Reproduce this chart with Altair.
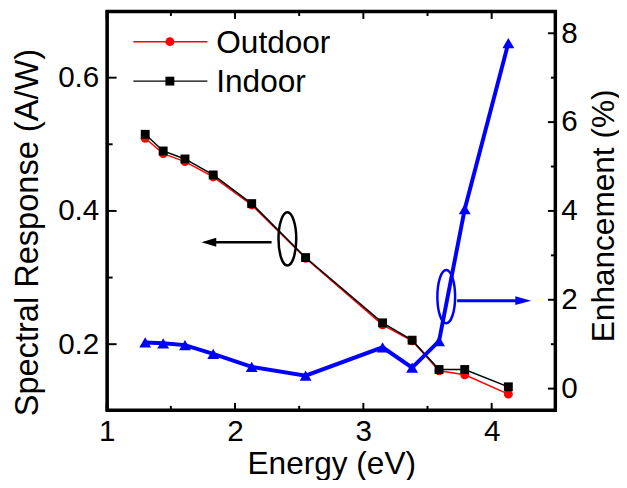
import altair as alt
import pandas as pd

# ---------------- data ----------------
energy = [1.30, 1.44, 1.61, 1.83, 2.13, 2.55, 3.15, 3.38, 3.59, 3.79, 4.13]
outdoor = [0.509, 0.486, 0.474, 0.451, 0.409, 0.329, 0.229, 0.205, 0.160, 0.154, 0.125]
indoor = [0.515, 0.490, 0.478, 0.454, 0.411, 0.330, 0.232, 0.206, 0.162, 0.162, 0.136]
enhancement = [1.04, 1.02, 0.98, 0.78, 0.49, 0.29, 0.93, 0.47, 1.07, 4.04, 7.78]

x_range = [1, 4.5]
left_range = [0.1, 0.7]
right_range = [-0.5, 8.5]

x_major = [1, 2, 3, 4]
x_minor = [1.5, 2.5, 3.5, 4.5]
left_major = [0.2, 0.4, 0.6]
left_minor = [0.3, 0.5]
right_major = [0, 2, 4, 6, 8]
right_minor = [1, 3, 5, 7]

# annotation anchors (data coordinates)
black_ellipse = {"x": [2.408], "y": [0.358]}
black_arrow = {"x": [2.285], "x2": [1.79], "y": [0.353], "head": [1.796]}
blue_ellipse = {"x": [3.646], "y": [2.07]}
blue_arrow = {"x": [3.731], "x2": [4.21], "y": [1.98], "head": [4.246]}

legend_labels = ["Outdoor", "Indoor"]

# ---------------- scales / axes ----------------
FONT = "Liberation Sans"
W, H = 455, 405

xscale = alt.Scale(domain=x_range, nice=False, zero=False)
lscale = alt.Scale(domain=left_range, nice=False, zero=False)
rscale = alt.Scale(domain=right_range, nice=False, zero=False)

xaxis = alt.Axis(values=x_major, format="d", title="Energy (eV)", labelFontSize=30,
                 titleFontSize=32, labelPadding=30, labelBaseline="alphabetic",
                 titleY=64, titleBaseline="alphabetic", titleFontWeight="normal",
                 ticks=False, domain=False, grid=False, labelFlush=False,
                 labelColor="black", titleColor="black", labelFont=FONT, titleFont=FONT)
laxis = alt.Axis(values=left_major, format=".1f", title="Spectral Response (A/W)",
                 labelFontSize=30, titleFontSize=33, labelPadding=8, ticks=False,
                 domain=False, grid=False, labelFlush=False, titleAngle=270,
                 titleX=-80, titleY=224, titleAlign="center", titleBaseline="middle",
                 titleFontWeight="normal", labelColor="black", titleColor="black",
                 labelFont=FONT, titleFont=FONT)
raxis = alt.Axis(values=right_major, format="d", title="Enhancement (%)", orient="right",
                 labelFontSize=30, titleFontSize=32, labelPadding=5, ticks=False,
                 domain=False, grid=False, labelFlush=False, titleAngle=270,
                 titleX=48, titleY=207, titleAlign="center", titleBaseline="middle",
                 titleFontWeight="normal", labelColor="black", titleColor="black",
                 labelFont=FONT, titleFont=FONT)


def X(f):
    return alt.X(f, type="quantitative", scale=xscale, axis=xaxis)


def YL(f):
    return alt.Y(f, type="quantitative", scale=lscale, axis=laxis)


def YR(f):
    return alt.Y(f, type="quantitative", scale=rscale, axis=raxis)


df = pd.DataFrame({"e": energy, "out": outdoor, "ind": indoor, "enh": enhancement})

ELLIPSE = "M 0 -1 A 0.333 1 0 1 1 0 1 A 0.333 1 0 1 1 0 -1 Z"
HEAD_LEFT = "M -1 0 L 1 -0.6 L 1 0.6 Z"
HEAD_RIGHT = "M 1 0 L -1 -0.55 L -1 0.55 Z"

# ---------------- plot frame ----------------
frame_df = pd.DataFrame({"x0": [x_range[0]], "x1": [x_range[1]],
                         "y0": [left_range[0]], "y1": [left_range[1]]})
frame = alt.Chart(frame_df).mark_rect(
    fill="white", fillOpacity=0, stroke="#000000", strokeWidth=2.5, strokeOpacity=1
).encode(x=X("x0"), x2="x1", y=YL("y0"), y2="y1")

fd = pd.DataFrame({"f": [0]})
frame_rules = [
    alt.Chart(fd).mark_rule(color="#000000", strokeWidth=2.5).encode(
        x=alt.value(0), x2=alt.value(W), y=alt.value(1)),
    alt.Chart(fd).mark_rule(color="#000000", strokeWidth=2.5).encode(
        x=alt.value(0), x2=alt.value(W), y=alt.value(H - 1)),
    alt.Chart(fd).mark_rule(color="#000000", strokeWidth=2.5).encode(
        y=alt.value(0), y2=alt.value(H), x=alt.value(1)),
    alt.Chart(fd).mark_rule(color="#000000", strokeWidth=2.5).encode(
        y=alt.value(0), y2=alt.value(H), x=alt.value(W - 1)),
]

# ---------------- left group ----------------
red_line = alt.Chart(df).mark_line(color="#ff0000", strokeWidth=1.5).encode(x=X("e"), y=YL("out"))
red_pts = alt.Chart(df).mark_point(shape="circle", filled=True, size=81, color="#ff0000",
                                   opacity=1).encode(x=X("e"), y=YL("out"))
blk_line = alt.Chart(df).mark_line(color="black", strokeWidth=1.5).encode(x=X("e"), y=YL("ind"))
blk_pts = alt.Chart(df).mark_point(shape="square", filled=True, size=81, color="black",
                                   opacity=1).encode(x=X("e"), y=YL("ind"))

lmaj = alt.Chart(pd.DataFrame({"v": left_major})).mark_rule(color="black", strokeWidth=2).encode(
    y=YL("v"), x=alt.value(0), x2=alt.value(10))
lmin = alt.Chart(pd.DataFrame({"v": left_minor})).mark_rule(color="black", strokeWidth=2).encode(
    y=YL("v"), x=alt.value(0), x2=alt.value(6))

bell = alt.Chart(pd.DataFrame(black_ellipse)).mark_point(
    shape=ELLIPSE, size=2916, filled=False, stroke="black", strokeWidth=2.5, opacity=1
).encode(x=X("x"), y=YL("y"))
barrow_df = pd.DataFrame(black_arrow)
barrow = alt.Chart(barrow_df).mark_rule(color="black", strokeWidth=2.5).encode(
    x=X("x"), x2="x2", y=YL("y"))
bhead = alt.Chart(barrow_df).mark_point(shape=HEAD_LEFT, size=225, filled=True, color="black",
                                        opacity=1).encode(x=X("head"), y=YL("y"))

left = alt.layer(frame, red_line, red_pts, blk_line, blk_pts, lmaj, lmin, bell, barrow, bhead)

# ---------------- right group ----------------
blue_line = alt.Chart(df).mark_line(color="#0000ff", strokeWidth=4).encode(x=X("e"), y=YR("enh"))
blue_pts = alt.Chart(df).mark_point(shape="triangle-up", filled=True, size=144, color="#0000ff",
                                    opacity=1).encode(x=X("e"), y=YR("enh"))
rmaj = alt.Chart(pd.DataFrame({"v": right_major})).mark_rule(color="black", strokeWidth=2).encode(
    y=YR("v"), x=alt.value(W), x2=alt.value(W - 8))
rmin = alt.Chart(pd.DataFrame({"v": right_minor})).mark_rule(color="black", strokeWidth=2).encode(
    y=YR("v"), x=alt.value(W), x2=alt.value(W - 5))
uell = alt.Chart(pd.DataFrame(blue_ellipse)).mark_point(
    shape=ELLIPSE, size=2916, filled=False, stroke="#0000ff", strokeWidth=2.5, opacity=1
).encode(x=X("x"), y=YR("y"))
uarrow_df = pd.DataFrame(blue_arrow)
uarrow = alt.Chart(uarrow_df).mark_rule(color="#0000ff", strokeWidth=3).encode(
    x=X("x"), x2="x2", y=YR("y"))
uhead = alt.Chart(uarrow_df).mark_point(shape=HEAD_RIGHT, size=256, filled=True, color="#0000ff",
                                        opacity=1).encode(x=X("head"), y=YR("y"))

right = alt.layer(blue_line, blue_pts, rmaj, rmin, uell, uarrow, uhead)

# ---------------- x ticks (bottom and top, inward) ----------------
xmaj_df = pd.DataFrame({"v": x_major})
xmin_df = pd.DataFrame({"v": x_minor})
bt_maj = alt.Chart(xmaj_df).mark_rule(color="black", strokeWidth=2).encode(
    x=X("v"), y=alt.value(H), y2=alt.value(H - 8))
bt_min = alt.Chart(xmin_df).mark_rule(color="black", strokeWidth=2).encode(
    x=X("v"), y=alt.value(H), y2=alt.value(H - 5))
tp_maj = alt.Chart(xmaj_df).mark_rule(color="black", strokeWidth=2).encode(
    x=X("v"), y=alt.value(0), y2=alt.value(8))
tp_min = alt.Chart(xmin_df).mark_rule(color="black", strokeWidth=2).encode(
    x=X("v"), y=alt.value(0), y2=alt.value(5))

# ---------------- legend (drawn) ----------------
leg_colors = ["#ff0000", "black"]
leg_shapes = ["circle", "square"]
leg_y = [31, 71]
legend_layers = []
for lab, col, shp, yy in zip(legend_labels, leg_colors, leg_shapes, leg_y):
    d = pd.DataFrame({"label": [lab]})
    legend_layers.append(alt.Chart(d).mark_rule(color=col, strokeWidth=1.5).encode(
        x=alt.value(27), x2=alt.value(102), y=alt.value(yy)))
    legend_layers.append(alt.Chart(d).mark_point(shape=shp, filled=True, size=81, color=col,
                                                 opacity=1).encode(
        x=alt.value(64), y=alt.value(yy)))
    legend_layers.append(alt.Chart(d).mark_text(align="left", baseline="middle", fontSize=32,
                                                font=FONT, color="black", dy=1).encode(
        x=alt.value(111), y=alt.value(yy), text="label:N"))

chart = alt.layer(
    left, right, bt_maj, bt_min, tp_maj, tp_min, *frame_rules, *legend_layers
).resolve_scale(y="independent").properties(
    width=W, height=H,
    autosize=alt.AutoSizeParams(type="none"),
    padding={"left": 100, "top": 0, "right": 64, "bottom": 67},
).configure(
    font=FONT, background="white",
    view=alt.ViewConfig(stroke="black", strokeWidth=2),
)

chart.save("out.html", embed_options={"renderer": "svg", "actions": False})
